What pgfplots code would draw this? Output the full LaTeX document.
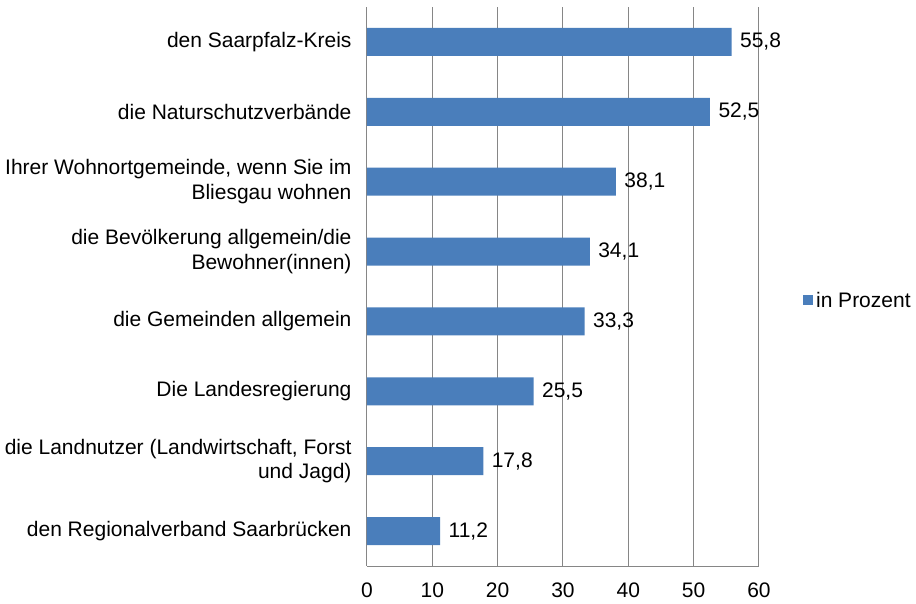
\documentclass[border=0pt]{standalone}
\usepackage{pgfplots}
\pgfplotsset{compat=1.18}
\usepackage{fontspec}
\setmainfont{Liberation Sans}
\definecolor{barblue}{HTML}{4A7EBB}
\definecolor{gridgray}{HTML}{868686}
\begin{document}
\begin{tikzpicture}
\useasboundingbox (-367pt,-38pt) rectangle (549pt,566pt);
\begin{axis}[
  at={(0,0)}, anchor=south west,
  scale only axis,
  width=392pt, height=559pt,
  xbar, bar width=28pt,
  xmin=0, xmax=60,
  ymin=-0.5, ymax=7.5,
  y dir=reverse,
  xtick={0,10,...,60},
  ytick={0,1,...,7},
  yticklabels={
    {den Saarpfalz-Kreis},
    {die Naturschutzverbände},
    {Ihrer Wohnortgemeinde, wenn Sie im\\Bliesgau wohnen},
    {die Bevölkerung allgemein/die\\Bewohner(innen)},
    {die Gemeinden allgemein},
    {Die Landesregierung},
    {die Landnutzer (Landwirtschaft, Forst\\und Jagd)},
    {den Regionalverband Saarbrücken}
  },
  yticklabel style={align=right, font=\fontsize{21}{24.5}\selectfont, xshift=-12pt},
  xticklabel style={font=\fontsize{21}{24.5}\selectfont, yshift=-13pt},
  /pgf/number format/assume math mode=true,
  major tick length=0pt,
  xmajorgrids, grid style={gridgray, line width=1pt},
  axis x line*=bottom, axis y line*=left,
  axis line style={gridgray, line width=1pt},
  separate axis lines,
  x axis line style={-}, y axis line style={-},
  nodes near coords,
  every node near coord/.append style={font=\fontsize{21}{24.5}\selectfont, black, anchor=west, xshift=5pt,
    /pgf/number format/.cd, use comma, fixed, fixed zerofill, precision=1, assume math mode=true},
  legend style={at={(1.112,0.475)}, anchor=west, draw=none, fill=none,
    font=\fontsize{21}{24.5}\selectfont, inner sep=0pt,
    nodes={inner sep=3pt}},
  legend image code/.code={\fill[barblue] (0pt,-5pt) rectangle (10pt,5pt);},
  clip=false,
]
\addplot[fill=barblue, draw=none] coordinates {
  (55.8,0) (52.5,1) (38.1,2) (34.1,3) (33.3,4) (25.5,5) (17.8,6) (11.2,7)
};
\addlegendentry{in Prozent}
\end{axis}
\end{tikzpicture}
\end{document}
